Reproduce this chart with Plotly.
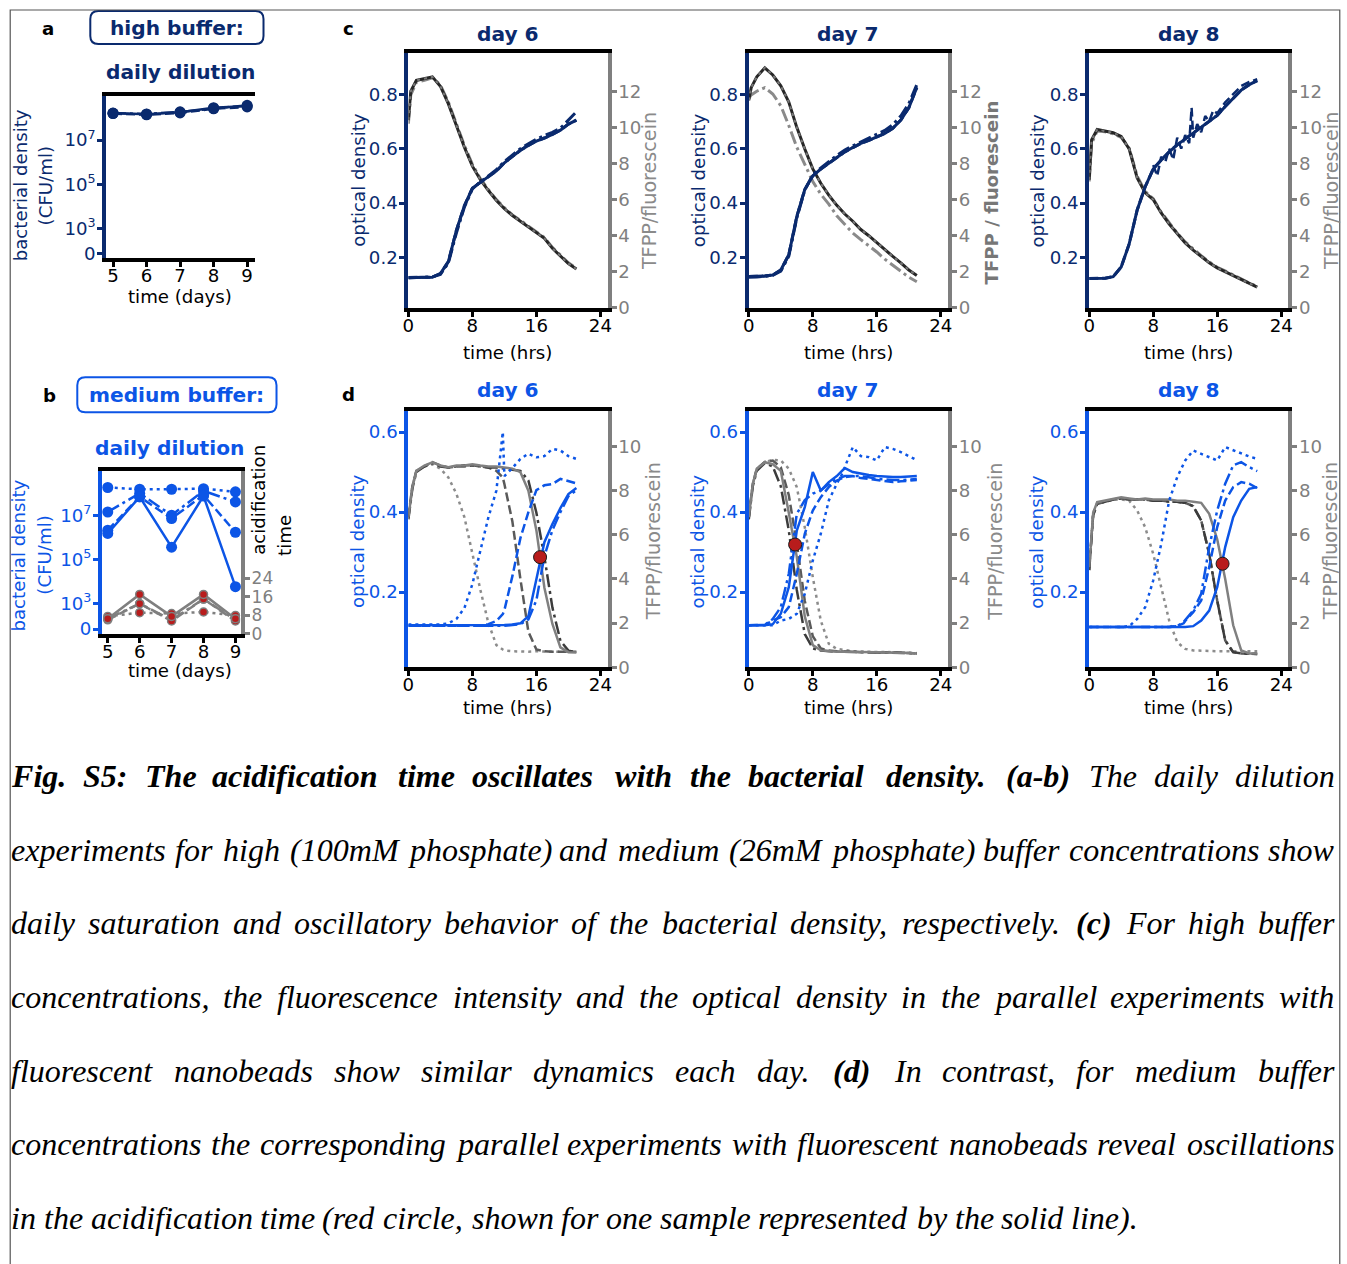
import plotly.graph_objects as go

W, H = 1347, 1264
# The photographed page is fitted with a slight shrink; positions below are given
# in reference-picture pixels and converted to figure pixels with this fit.
FIT_S, FIT_OX = 0.9914, 5.8
K = 1.0 / FIT_S

# ---------------- data : panels a / b (daily dilution) ----------------
DAYS = [5, 6, 7, 8, 9]
A_SOLID = [1.70e8, 1.48e8, 1.86e8, 2.95e8, 3.50e8]
A_DASHED = [1.60e8, 1.42e8, 1.72e8, 2.65e8, 3.20e8]
A_DASHDOT = [1.66e8, 1.55e8, 1.92e8, 2.80e8, 3.80e8]

B_SOLID = [1.5e6, 6.8e7, 3.6e5, 7.4e7, 5.9e3]
B_DASHED = [2.1e6, 6.8e7, 7.1e6, 8.1e7, 1.7e6]
B_DASHDOT = [1.4e7, 9.8e7, 1.0e7, 1.26e8, 4.0e7]
B_DOTTED = [1.8e8, 1.5e8, 1.5e8, 1.6e8, 1.15e8]

ACID_SOLID = [6.5, 17.0, 7.5, 17.0, 6.5]
ACID_DASHED = [6.0, 13.0, 5.5, 15.0, 5.5]
ACID_DASHDOT = [6.5, 13.0, 6.0, 15.0, 6.0]
ACID_DOTTED = [7.5, 9.1, 8.7, 9.4, 7.9]

# ---------------- data : panel c (high buffer) ----------------
T_C = [0, 0.3, 1, 2, 3, 4, 5, 6, 7, 8, 9, 10, 11, 12, 13, 14, 15, 16, 17, 18, 19, 20, 21]
C6_OD = [0.127, 0.127, 0.127, 0.127, 0.128, 0.141, 0.185, 0.30, 0.39, 0.455, 0.475, 0.495, 0.518, 0.548,
         0.572, 0.594, 0.612, 0.628, 0.639, 0.652, 0.668, 0.69, 0.705]
C6_OD_B = [0.125, 0.126, 0.127, 0.128, 0.129, 0.138, 0.18, 0.29, 0.385, 0.452, 0.478, 0.50, 0.523, 0.553,
           0.578, 0.60, 0.618, 0.635, 0.648, 0.66, 0.675, 0.705, 0.735]
C6_TF = [10.4, 12.0, 12.6, 12.7, 12.8, 12.28, 11.3, 10.1, 8.9, 7.85, 7.1, 6.5, 5.95, 5.5, 5.12, 4.8, 4.5,
         4.17, 3.85, 3.3, 2.9, 2.45, 2.15]
C6_TF_B = [10.2, 11.8, 12.5, 12.6, 12.75, 12.35, 11.4, 10.2, 9.0, 7.95, 7.15, 6.55, 6.0, 5.55, 5.15, 4.85,
           4.52, 4.2, 3.9, 3.35, 2.95, 2.5, 2.2]

C7_OD = [0.13, 0.13, 0.13, 0.132, 0.136, 0.154, 0.21, 0.35, 0.45, 0.50, 0.525, 0.545, 0.568, 0.588, 0.604,
         0.619, 0.63, 0.643, 0.656, 0.675, 0.705, 0.75, 0.825]
C7_OD_B = [0.128, 0.128, 0.129, 0.131, 0.135, 0.15, 0.205, 0.345, 0.448, 0.505, 0.53, 0.552, 0.575, 0.595,
           0.61, 0.625, 0.638, 0.652, 0.667, 0.688, 0.72, 0.765, 0.835]
C7_TF = [11.5, 12.2, 12.8, 13.3, 12.9, 12.3, 11.4, 10.0, 8.8, 7.7, 6.9, 6.25, 5.68, 5.2, 4.8, 4.34, 4.0,
         3.6, 3.2, 2.85, 2.49, 2.1, 1.8]
C7_TF_B = [11.6, 11.8, 12.0, 12.2, 11.85, 11.2, 10.1, 8.9, 7.95, 7.0, 6.3, 5.75, 5.1, 4.6, 4.15, 3.78,
           3.45, 3.1, 2.7, 2.35, 2.03, 1.7, 1.45]

C8_OD = [0.123, 0.123, 0.123, 0.124, 0.13, 0.165, 0.25, 0.375, 0.46, 0.525, 0.558, 0.588, 0.614, 0.636,
         0.658, 0.68, 0.70, 0.722, 0.755, 0.785, 0.815, 0.835, 0.85]
T_C8N = [8, 8.5, 9, 9.5, 10, 10.5, 11, 11.5, 12, 12.5, 12.8, 13, 13.5, 14, 14.5, 15, 15.5, 16, 17, 18, 19, 20, 21]
C8_OD_NOISY = [0.54, 0.50, 0.57, 0.55, 0.60, 0.56, 0.64, 0.60, 0.65, 0.62, 0.75, 0.64, 0.69, 0.66, 0.72,
               0.70, 0.74, 0.73, 0.77, 0.80, 0.83, 0.845, 0.855]
C8_TF = [7.1, 9.3, 9.88, 9.78, 9.7, 9.5, 8.8, 7.2, 6.37, 6.0, 5.26, 4.65, 4.1, 3.6, 3.2, 2.86, 2.5, 2.22,
         2.0, 1.8, 1.57, 1.35, 1.15]
C8_TF_B = [7.0, 9.1, 9.8, 9.75, 9.65, 9.45, 8.85, 7.3, 6.45, 6.05, 5.3, 4.7, 4.15, 3.65, 3.25, 2.9, 2.55,
           2.25, 2.05, 1.82, 1.6, 1.38, 1.18]

# ---------------- data : panel d (medium buffer) ----------------
T_D = [0, 0.5, 1, 2, 3, 4, 5, 6, 7, 8, 9, 10, 11, 11.8, 12, 13, 14, 15, 16, 17, 18, 19, 20, 21]

D6_OD_SOLID = [.117, .117, .117, .117, .117, .117, .117, .117, .117, .117, .117, .117, .117, .117, .118,
               .119, .122, .14, .235, .325, .37, .41, .445, .46]
D6_OD_DASHDOT = [.116, .116, .116, .116, .116, .116, .116, .116, .116, .116, .116, .116, .116, .116, .116,
                 .118, .12, .132, .18, .29, .355, .40, .44, .455]
D6_OD_DASHED = [.116, .116, .116, .116, .116, .116, .116, .116, .116, .116, .116, .12, .128, .145, .155,
                .24, .335, .40, .455, .467, .47, .483, .478, .472]
D6_OD_DOTTED = [.119, .119, .118, .118, .118, .119, .122, .133, .16, .22, .304, .387, .454, .60, .49, .51,
                .533, .546, .537, .54, .558, .554, .54, .533]
D6_TF_SOLID = [6.8, 8.16, 8.9, 9.14, 9.29, 9.14, 9.06, 9.14, 9.14, 9.2, 9.14, 9.1, 9.1, 9.06, 9.06, 9.0,
               8.84, 8.0, 6.2, 3.6, 1.96, 0.9, 0.68, 0.66]
D6_TF_DASHDOT = [6.7, 8.1, 8.85, 9.1, 9.25, 9.1, 9.05, 9.1, 9.15, 9.15, 9.1, 9.05, 9.05, 9.0, 9.0, 8.95,
                 8.9, 8.46, 7.0, 5.0, 2.7, 1.2, 0.75, 0.68]
D6_TF_DASHED = [6.8, 8.2, 8.9, 9.1, 9.3, 9.15, 9.05, 9.1, 9.1, 9.15, 9.1, 9.05, 8.9, 8.6, 8.3, 6.6, 4.0,
                1.6, 0.8, 0.72, 0.7, 0.7, 0.7, 0.7]
D6_TF_DOTTED = [6.8, 8.2, 8.9, 9.1, 9.2, 9.0, 8.6, 7.86, 6.8, 5.1, 3.5, 2.0, 1.0, 0.8, 0.76, 0.72, 0.7,
                0.7, 0.72, 0.7, 0.7, 0.7, 0.7, 0.7]

D7_OD_SOLID = [.117, .117, .117, .117, .12, .146, .2125, .354, .4125, .5, .454, .475, .49, .505, .51, .5,
               .496, .493, .49, .488, .4875, .488, .489, .49]
D7_OD_DASHDOT = [.117, .117, .117, .118, .133, .1625, .246, .396, .43, .446, .454, .47, .483, .488, .49,
                 .49, .49, .487, .483, .482, .48, .48, .482, .483]
D7_OD_DASHED = [.117, .117, .117, .118, .129, .1375, .1625, .246, .346, .404, .4375, .4625, .479, .485,
                .4875, .49, .485, .483, .48, .478, .475, .477, .478, .48]
D7_OD_DOTTED = [.117, .117, .117, .117, .117, .129, .133, .146, .196, .279, .346, .429, .471, .50, .5125,
                .5625, .54, .5375, .529, .5625, .558, .55, .54, .53]
D7_TF_SOLID = [6.8, 8.3, 8.99, 9.29, 9.2, 8.9, 7.0, 5.0, 2.3, 1.0, 0.76, 0.72, 0.7, 0.7, 0.7, 0.68, 0.68,
               0.68, 0.68, 0.66, 0.66, 0.66, 0.64, 0.62]
D7_TF_DASHDOT = [6.7, 8.2, 8.9, 9.25, 9.1, 8.2, 6.2, 3.5, 1.5, 0.85, 0.75, 0.72, 0.7, 0.7, 0.7, 0.68, 0.68,
                 0.68, 0.66, 0.66, 0.66, 0.64, 0.64, 0.62]
D7_TF_DASHED = [6.8, 8.3, 9.0, 9.3, 9.37, 9.06, 7.8, 5.6, 3.0, 1.4, 0.85, 0.75, 0.72, 0.7, 0.7, 0.7, 0.68,
                0.68, 0.68, 0.66, 0.66, 0.66, 0.64, 0.62]
D7_TF_DOTTED = [6.8, 8.3, 9.0, 9.3, 9.4, 9.37, 9.0, 8.16, 6.34, 4.08, 2.11, 1.06, 0.83, 0.78, 0.76, 0.72,
                0.7, 0.7, 0.7, 0.68, 0.68, 0.66, 0.66, 0.64]

D8_OD_SOLID = [.113, .113, .113, .113, .113, .113, .113, .113, .113, .113, .113, .113, .113, .113, .113,
               .115, .129, .154, .2125, .3125, .3875, .429, .458, .4625]
D8_OD_DASHDOT = [.113, .113, .113, .113, .113, .113, .113, .113, .113, .113, .113, .113, .115, .125, .13,
                 .154, .196, .3125, .404, .471, .517, .525, .5125, .5025]
D8_OD_DASHED = [.113, .113, .113, .113, .113, .113, .113, .113, .113, .113, .113, .113, .115, .122, .128,
                .15, .179, .2625, .3625, .429, .4625, .475, .471, .46]
D8_OD_DOTTED = [.113, .113, .113, .113, .113, .113, .115, .133, .1625, .229, .32, .429, .4875, .52, .529,
                .554, .546, .5375, .529, .5625, .554, .546, .539, .533]
D8_TF_SOLID = [4.53, 7.0, 7.48, 7.55, 7.63, 7.7, 7.65, 7.6, 7.65, 7.6, 7.6, 7.6, 7.55, 7.55, 7.55, 7.5,
               7.45, 6.95, 5.8, 4.0, 1.9, 0.76, 0.62, 0.62]
D8_TF_DASHED = [4.4, 6.9, 7.4, 7.5, 7.6, 7.65, 7.6, 7.6, 7.6, 7.55, 7.55, 7.5, 7.5, 7.45, 7.45, 7.3, 6.65,
                5.14, 3.02, 1.21, 0.68, 0.62, 0.6, 0.6]
D8_TF_DOTTED = [4.5, 7.0, 7.45, 7.5, 7.6, 7.6, 7.55, 7.1, 6.34, 5.14, 3.63, 2.11, 1.13, 0.88, 0.83, 0.76,
                0.74, 0.72, 0.72, 0.72, 0.72, 0.72, 0.72, 0.72]

# acidification time markers (time, OD) for the solid-line sample
ACID_T = [16.46, 5.79, 16.67]
ACID_OD = [0.2875, 0.319, 0.271]

DAY_LABELS = ["day 6", "day 7", "day 8"]

# ---------------- style ----------------
NAVY = '#0a2a6e'
BLUE = '#0c55e6'
GREY = '#7f7f7f'
RED = '#b81c1c'
SANS = 'DejaVu Sans'
SERIF = 'Liberation Serif'
DASH = '9px,4px'
DASHDOT = '13px,4px,3px,4px'
DOT = '3px,4px'
FS = round(18 * K, 2)
FT = round(20 * K, 2)

fig = go.Figure()


def fx(x):
    return (x - FIT_OX) / FIT_S


def fy(y):
    return y / FIT_S


def px(x):
    return fx(x) / W


def py(y):
    return 1 - fy(y) / H


def xn(i):
    return 'x' if i == 1 else 'x%d' % i


def yn(n):
    return 'y' if n == 1 else 'y%d' % n


def xk(i):
    return 'xaxis' if i == 1 else 'xaxis%d' % i


def yk(n):
    return 'yaxis' if n == 1 else 'yaxis%d' % n


def add_line(i, side, x, y, color, dash='solid', width=2.5, marker=None, opacity=1.0):
    yidx = 2 * i - 1 if side == 'L' else 2 * i
    mode = 'lines' if marker is None else 'lines+markers'
    tr = go.Scatter(x=x, y=y, xaxis=xn(i), yaxis=yn(yidx), mode=mode,
                    line=dict(color=color, dash=dash, width=width),
                    opacity=opacity, hoverinfo='skip', showlegend=False)
    if marker is not None:
        tr.marker = marker
    fig.add_trace(tr)


# panel geometry (reference-pixel boxes: x0, x1, ytop, ybottom)
PANELS = {
    1: dict(box=(106, 255, 96, 258), xr=[4.8, 9.25], xt=DAYS),
    2: dict(box=(101.7, 240.7, 470.7, 633.3), xr=[4.82, 9.18], xt=DAYS),
    3: dict(box=(407.7, 606.7, 53.3, 307.7), xr=[0, 24.9], xt=[0, 8, 16, 24]),
    4: dict(box=(747.7, 946.7, 53.3, 307.7), xr=[0, 24.9], xt=[0, 8, 16, 24]),
    5: dict(box=(1087.7, 1286.7, 53.3, 307.7), xr=[0, 24.9], xt=[0, 8, 16, 24]),
    6: dict(box=(407.7, 606.7, 411, 666.7), xr=[0, 24.9], xt=[0, 8, 16, 24]),
    7: dict(box=(747.7, 946.7, 411, 666.7), xr=[0, 24.9], xt=[0, 8, 16, 24]),
    8: dict(box=(1087.7, 1286.7, 411, 666.7), xr=[0, 24.9], xt=[0, 8, 16, 24]),
}

layout_axes = {}
for i, p in PANELS.items():
    x0, x1, yt, yb = p['box']
    L, R = 2 * i - 1, 2 * i
    if i in (1, 2):
        lcol = NAVY if i == 1 else BLUE
        left = dict(type='log', range=[1.64, 9.0],
                    tickvals=[10 ** 1.85, 1e3, 1e5, 1e7],
                    ticktext=['0', '10<sup>3</sup>', '10<sup>5</sup>', '10<sup>7</sup>'])
        if i == 1:
            right = dict(range=[0, 1], showticklabels=False, ticks='', linecolor='black')
        else:
            right = dict(range=[0, 70.3], tickvals=[0, 8, 16, 24], linecolor=GREY, tickcolor=GREY,
                         tickfont=dict(family=SANS, size=17, color=GREY), ticks='outside')
    elif i in (3, 4, 5):
        lcol = NAVY
        left = dict(range=[0.015, 0.95], tickvals=[0.2, 0.4, 0.6, 0.8], tickformat='.1f')
        right = dict(range=[0, 14.1], tickvals=[0, 2, 4, 6, 8, 10, 12], linecolor=GREY, tickcolor=GREY,
                     tickfont=dict(family=SANS, size=FS, color=GREY), ticks='outside')
    else:
        lcol = BLUE
        left = dict(range=[0.0125, 0.652], tickvals=[0.2, 0.4, 0.6], tickformat='.1f')
        right = dict(range=[0, 11.6], tickvals=[0, 2, 4, 6, 8, 10], linecolor=GREY, tickcolor=GREY,
                     tickfont=dict(family=SANS, size=FS, color=GREY), ticks='outside')

    layout_axes[xk(i)] = dict(domain=[px(x0), px(x1)], range=p['xr'], anchor=yn(R),
                              tickvals=p['xt'], showline=True, linewidth=4, linecolor='black',
                              mirror=True, ticks='outside', ticklen=5, tickwidth=3, tickcolor='black',
                              ticklabelstandoff=-7,
                              tickfont=dict(family=SANS, size=FS, color='black'),
                              showgrid=False, zeroline=False, fixedrange=True)
    rbase = dict(domain=[py(yb), py(yt)], anchor=xn(i), side='right', showline=True, linewidth=4,
                 ticklen=5, tickwidth=3, showgrid=False, zeroline=False, fixedrange=True,
                 ticklabelstandoff=-2)
    rbase.update(right)
    layout_axes[yk(R)] = rbase
    lbase = dict(domain=[py(yb), py(yt)], anchor=xn(i), overlaying=yn(R), side='left', showline=True,
                 linewidth=4, linecolor=lcol, ticks='outside', ticklen=5, tickwidth=3, tickcolor=lcol,
                 ticklabelstandoff=-2,
                 tickfont=dict(family=SANS, size=FS, color=lcol),
                 showgrid=False, zeroline=False, fixedrange=True)
    lbase.update(left)
    layout_axes[yk(L)] = lbase

# ---------------- traces ----------------
# panel a
for ys, d in ((A_DASHDOT, DASHDOT), (A_DASHED, DASH), (A_SOLID, 'solid')):
    add_line(1, 'L', DAYS, ys, NAVY, d, 2.5, marker=dict(size=11, color=NAVY))

# panel b : acidification time (grey with red markers)
for ys, d in ((ACID_DOTTED, DOT), (ACID_DASHDOT, DASHDOT), (ACID_DASHED, DASH), (ACID_SOLID, 'solid')):
    add_line(2, 'R', DAYS, ys, GREY, d, 2.5,
             marker=dict(size=8, color=RED, line=dict(color=GREY, width=1.5)))
# panel b : bacterial density
for ys, d in ((B_DOTTED, DOT), (B_DASHDOT, DASHDOT), (B_DASHED, DASH), (B_SOLID, 'solid')):
    add_line(2, 'L', DAYS, ys, BLUE, d, 2.5, marker=dict(size=11, color=BLUE))

# panel c
C_SETS = [(3, C6_OD, C6_OD_B, None, None, C6_TF, C6_TF_B),
          (4, C7_OD, C7_OD_B, None, None, C7_TF, C7_TF_B),
          (5, C8_OD, None, T_C8N, C8_OD_NOISY, C8_TF, C8_TF_B)]
for i, od, odb, tn, odn, tf, tfb in C_SETS:
    add_line(i, 'R', T_C, tfb, '#8a8a8a', DASHDOT, 3)
    add_line(i, 'R', T_C, tf, '#262626', 'solid', 3)
    add_line(i, 'R', T_C, tf, '#777777', DOT, 2)
    if odb is not None:
        add_line(i, 'L', T_C, odb, NAVY, DASHDOT, 3)
    if odn is not None:
        add_line(i, 'L', tn, odn, NAVY, DASH, 2.5)
    add_line(i, 'L', T_C, od, NAVY, 'solid', 3)
    add_line(i, 'L', T_C, od, NAVY, DASH, 3)

# panel d
D_SETS = [(6, (D6_TF_SOLID, D6_TF_DASHDOT, D6_TF_DASHED, D6_TF_DOTTED),
           (D6_OD_SOLID, D6_OD_DASHDOT, D6_OD_DASHED, D6_OD_DOTTED)),
          (7, (D7_TF_SOLID, D7_TF_DASHDOT, D7_TF_DASHED, D7_TF_DOTTED),
           (D7_OD_SOLID, D7_OD_DASHDOT, D7_OD_DASHED, D7_OD_DOTTED)),
          (8, (D8_TF_SOLID, D8_TF_DASHED, D8_TF_DASHED, D8_TF_DOTTED),
           (D8_OD_SOLID, D8_OD_DASHDOT, D8_OD_DASHED, D8_OD_DOTTED))]
for k, (i, tfs, ods) in enumerate(D_SETS):
    add_line(i, 'R', T_D, tfs[3], '#8c8c8c', DOT, 2.5)
    add_line(i, 'R', T_D, tfs[2], '#5a5a5a', DASH, 2.5)
    add_line(i, 'R', T_D, tfs[1], '#3c3c3c', DASHDOT, 2.5)
    add_line(i, 'R', T_D, tfs[0], '#808080', 'solid', 2.5)
    add_line(i, 'L', T_D, ods[3], BLUE, DOT, 2.5)
    add_line(i, 'L', T_D, ods[2], BLUE, DASH, 2.5)
    add_line(i, 'L', T_D, ods[1], BLUE, DASHDOT, 2.5)
    add_line(i, 'L', T_D, ods[0], BLUE, 'solid', 2.5)
    fig.add_trace(go.Scatter(x=[ACID_T[k]], y=[ACID_OD[k]], xaxis=xn(i), yaxis=yn(2 * i - 1),
                             mode='markers', hoverinfo='skip', showlegend=False,
                             marker=dict(size=13, color=RED, line=dict(color='#1a1a1a', width=1))))

# ---------------- annotations ----------------
ann = []


def text(x, y, s, size=FS, color='black', bold=False, angle=0, family=SANS):
    ann.append(dict(x=px(x), y=py(y), xref='paper', yref='paper', showarrow=False,
                    text=('<b>%s</b>' % s) if bold else s, textangle=angle,
                    xanchor='center', yanchor='middle',
                    font=dict(family=family, size=size, color=color)))


text(48, 28, 'a', FS, bold=True)
text(177, 28, 'high buffer:', FT, NAVY, bold=True)
text(180, 72, 'daily dilution', FT, NAVY, bold=True)
text(20, 185, 'bacterial density', FS, NAVY, angle=-90)
text(45, 186, '(CFU/ml)', FS, NAVY, angle=-90)
text(180, 296, 'time (days)', FS)

text(49, 395, 'b', FS, bold=True)
text(176, 395, 'medium buffer:', FT, BLUE, bold=True)
text(169, 448, 'daily dilution', FT, BLUE, bold=True)
text(18, 555, 'bacterial density', FS, BLUE, angle=-90)
text(44, 555, '(CFU/ml)', FS, BLUE, angle=-90)
text(258, 499, 'acidification', FS, angle=-90)
text(284, 535, 'time', FS, angle=-90)
text(180, 670, 'time (days)', FS)

text(348, 28, 'c', FS, bold=True)
text(348, 394, 'd', FS, bold=True)
CX = [507, 847, 1187]
LX = [358, 697, 1036]
RXC = [648, 990, 1329]
RXD = [652, 994, 1329]
for j in range(3):
    text(CX[j], 34, DAY_LABELS[j], FT, NAVY, bold=True)
    text(CX[j], 390, DAY_LABELS[j], FT, BLUE, bold=True)
    text(LX[j], 180, 'optical density', FS, NAVY, angle=-90)
    text(LX[j] - 1, 541, 'optical density', FS, BLUE, angle=-90)
    if j == 1:
        text(RXC[j], 192, 'TFPP / fluorescein', FS, '#777777', bold=True, angle=-90)
    else:
        text(RXC[j], 191, 'TFPP/fluorescein', 19 * K, '#8a8a8a', angle=-90)
    text(RXD[j], 541, 'TFPP/fluorescein', 19 * K, '#8a8a8a', angle=-90)
    text(CX[j], 352, 'time (hrs)', FS)
    text(CX[j], 707, 'time (hrs)', FS)

# ---------------- caption (justified, word by word) ----------------
CAPTION = [
    "**Fig. S5: The acidification time oscillates with the bacterial density. (a-b)** The daily dilution",
    "experiments for high (100mM phosphate) and medium (26mM phosphate) buffer concentrations show",
    "daily saturation and oscillatory behavior of the bacterial density, respectively. **(c)** For high buffer",
    "concentrations, the fluorescence intensity and the optical density in the parallel experiments with",
    "fluorescent nanobeads show similar dynamics each day. **(d)** In contrast, for medium buffer",
    "concentrations the corresponding parallel experiments with fluorescent nanobeads reveal oscillations",
    "in the acidification time (red circle, shown for one sample represented by the solid line).",
]
CAP_Y = [775, 849, 922, 996, 1070, 1143, 1217]

TW = {' ': .25, '(': .333, ')': .333, ',': .25, '-': .333, '.': .25, '/': .278, ':': .333,
      'A': .611, 'B': .611, 'C': .667, 'D': .722, 'E': .611, 'F': .611, 'G': .722, 'H': .722, 'I': .333,
      'M': .833, 'S': .5, 'T': .556,
      'a': .5, 'b': .5, 'c': .444, 'd': .5, 'e': .444, 'f': .278, 'g': .5, 'h': .5, 'i': .278, 'j': .278,
      'k': .444, 'l': .278, 'm': .722, 'n': .5, 'o': .5, 'p': .5, 'q': .5, 'r': .389, 's': .389, 't': .278,
      'u': .5, 'v': .444, 'w': .667, 'x': .444, 'y': .444, 'z': .389}


def wem(w, bold):
    return sum(TW.get(c, .5) for c in w) * (1.05 if bold else 1.0)


def parse(line):
    out = []
    for k, seg in enumerate(line.split('**')):
        for w in seg.split():
            out.append((w, k % 2 == 1))
    return out


words_last = parse(CAPTION[-1])
em_last = sum(wem(w, b) for w, b in words_last) + 0.25 * (len(words_last) - 1)
S = max(27.0, min(33.5, (1125.0 * K) / em_last))
LEFT, RIGHT = fx(10.0), fx(1335.0) - 4.0

for li, line in enumerate(CAPTION):
    words = parse(line)
    widths = [wem(w, b) * S for w, b in words]
    if li < len(CAPTION) - 1:
        gap = (RIGHT - LEFT - sum(widths)) / (len(words) - 1)
    else:
        gap = 0.25 * S
    xcur = LEFT
    for (w, b), wd in zip(words, widths):
        t = '<i>%s</i>' % w
        if b:
            t = '<b>%s</b>' % t
        ann.append(dict(x=xcur / W, y=py(CAP_Y[li]), xref='paper', yref='paper', showarrow=False,
                        text=t, xanchor='left', yanchor='middle', borderpad=0,
                        font=dict(family=SERIF, size=S, color='black')))
        xcur += wd + gap

# ---------------- shapes ----------------
shapes = []


def rounded(x0, y0, x1, y1, r, color):
    P = lambda x, y: '%.5f,%.5f' % (px(x), py(y))
    path = ('M ' + P(x0 + r, y0) + ' L ' + P(x1 - r, y0) + ' Q ' + P(x1, y0) + ' ' + P(x1, y0 + r) +
            ' L ' + P(x1, y1 - r) + ' Q ' + P(x1, y1) + ' ' + P(x1 - r, y1) +
            ' L ' + P(x0 + r, y1) + ' Q ' + P(x0, y1) + ' ' + P(x0, y1 - r) +
            ' L ' + P(x0, y0 + r) + ' Q ' + P(x0, y0) + ' ' + P(x0 + r, y0) + ' Z')
    shapes.append(dict(type='path', xref='paper', yref='paper', path=path,
                       line=dict(color=color, width=2), fillcolor='rgba(0,0,0,0)'))


rounded(90, 11, 263, 44, 8, NAVY)
rounded(77, 377, 276, 412, 8, BLUE)

frame = 'M %.5f,%.5f L %.5f,%.5f L %.5f,%.5f L %.5f,%.5f' % (
    px(10), -0.03, px(10), py(10), px(1338), py(10), px(1338), -0.03)
shapes.append(dict(type='path', xref='paper', yref='paper', path=frame,
                   line=dict(color='#555555', width=1.2), fillcolor='rgba(0,0,0,0)'))

fig.update_layout(width=W, height=H, autosize=False,
                  margin=dict(l=0, r=0, t=0, b=0, pad=0),
                  paper_bgcolor='white', plot_bgcolor='white',
                  showlegend=False, annotations=ann, shapes=shapes, **layout_axes)

POST = ("document.documentElement.style.margin='0';document.documentElement.style.padding='0';"
        "document.body.style.margin='0';document.body.style.padding='0';"
        "document.documentElement.style.overflow='hidden';document.body.style.overflow='hidden';")

fig.write_html('out.html', config={'displayModeBar': False}, post_script=POST)
